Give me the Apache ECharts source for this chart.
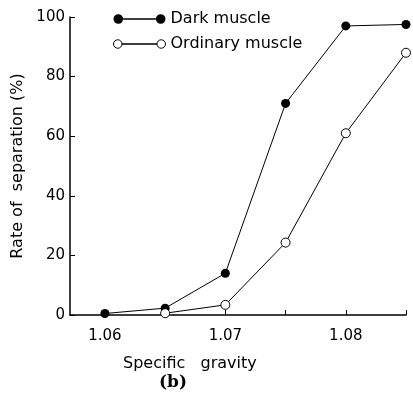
<!DOCTYPE html>
<html><head><meta charset="utf-8">
<script src="https://cdn.jsdelivr.net/npm/echarts@6/dist/echarts.min.js"></script>
<style>html,body{margin:0;padding:0;background:#fff}#c{width:413px;height:402px}</style>
</head><body><div id="c"></div>
<script>
var gravity = [1.06, 1.065, 1.07, 1.075, 1.08, 1.085];
var darkMuscle = [0.5, 2.3, 14, 71, 97, 97.5];
var ordinaryMuscle = [null, 0.6, 3.4, 24.3, 61, 88];
var xTicks = [1.06, 1.065, 1.07, 1.075, 1.08, 1.085];
var xLabels = [1.06, 1.07, 1.08];
var seriesNames = ['Dark muscle', 'Ordinary muscle'];
var xName = 'Specific   gravity';
var yName = 'Rate of  separation (%)';
var panel = '(b)';

function pairs(xs, ys){ var o=[]; for(var i=0;i<xs.length;i++){ if(ys[i]!=null) o.push([xs[i], ys[i]]); } return o; }
var font = 'DejaVu Sans';
var iconFilled = 'path://M0.5,5a4.5,4.5 0 1,0 9,0a4.5,4.5 0 1,0 -9,0Z M40.5,5a4.5,4.5 0 1,0 9,0a4.5,4.5 0 1,0 -9,0Z M9.5,4.4L40.5,4.4L40.5,5.6L9.5,5.6Z';
var iconOpen = 'path://M0.5,5a4,4 0 1,0 8,0a4,4 0 1,0 -8,0Z M41.5,5a4,4 0 1,0 8,0a4,4 0 1,0 -8,0Z M8.5,4.95L41.5,4.95L41.5,5.05L8.5,5.05Z';

var chart = echarts.init(document.getElementById('c'));
chart.setOption({
  animation: false,
  backgroundColor: '#fff',
  title: [
    {text: xName, left: 118, top: 351, textStyle:{fontFamily: font, fontSize: 16, fontWeight:'normal', color:'#000'}},
    {text: panel, left: 154, top: 369, textStyle:{fontFamily: 'DejaVu Serif', fontSize: 17, fontWeight:'bold', color:'#000'}}
  ],
  legend: {
    orient: 'vertical', left: 108, top: 6, itemWidth: 52, itemHeight: 10, itemGap: 9,
    textStyle: {fontFamily: font, fontSize: 16, color: '#000'},
    data: [
      {name: seriesNames[0], icon: iconFilled, itemStyle:{color:'#000', borderWidth:0}},
      {name: seriesNames[1], icon: iconOpen, itemStyle:{color:'#fff', borderColor:'#000', borderWidth:1}}
    ]
  },
  grid: {left: 70, right: 7, top: 17, bottom: 87, containLabel: false},
  xAxis: {
    type: 'value', min: 1.0571, max: 1.085,
    axisLine: {lineStyle:{color:'#000', width:1.5}},
    axisTick: {inside: true, length: 5, customValues: xTicks, lineStyle:{color:'#000'}},
    axisLabel: {customValues: xLabels, margin: 14, fontFamily: font, fontSize: 15, color:'#000',
      formatter: function(v){ return v.toFixed(2); }},
    splitLine: {show:false}
  },
  yAxis: {
    type: 'value', min: 0, max: 100, interval: 20,
    name: yName, nameLocation: 'middle', nameGap: 41, nameRotate: 90,
    nameTextStyle: {fontFamily: font, fontSize: 16, color:'#000'},
    axisLine: {show:true, lineStyle:{color:'#000', width:1.5}},
    axisTick: {show:true, inside: true, length: 5, lineStyle:{color:'#000'}},
    axisLabel: {margin: 5, fontFamily: font, fontSize: 15, color:'#000'},
    splitLine: {show:false}
  },
  series: [
    {name: seriesNames[0], type:'line', data: pairs(gravity, darkMuscle), symbol:'circle', symbolSize: 9,
     lineStyle:{color:'#000', width:1}, itemStyle:{color:'#000'}},
    {name: seriesNames[1], type:'line', data: pairs(gravity, ordinaryMuscle), symbol:'circle', symbolSize: 9,
     lineStyle:{color:'#000', width:1}, itemStyle:{color:'#fff', borderColor:'#000', borderWidth:1}}
  ]
});
</script></body></html>
